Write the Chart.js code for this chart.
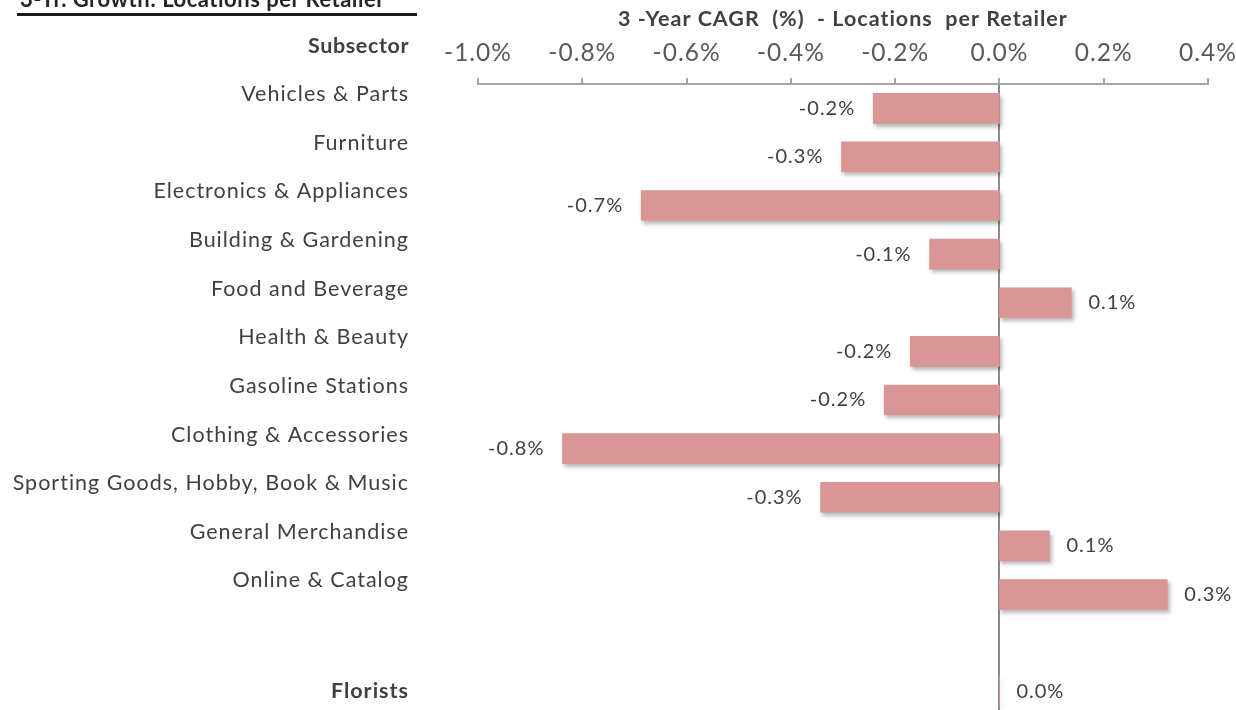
<!DOCTYPE html>
<html>
<head>
<meta charset="utf-8">
<script src="https://cdn.jsdelivr.net/npm/chart.js@4"></script>
<style>
  html, body { margin: 0; padding: 0; background: #fff; overflow: hidden; }
  body { width: 1236px; height: 710px; position: relative; font-family: Lato, sans-serif; }
  #chart { position: absolute; left: 0; top: 0; }
  #page-title { position: absolute; left: 20px; top: -15px; font: 700 22px Lato, sans-serif; color: #262626; white-space: nowrap; letter-spacing: 0.5px; }
  #rule { position: absolute; left: 17px; top: 13px; width: 400px; height: 3px; background: #1a1a1a; }
  #subsector { position: absolute; left: 0; top: 32px; width: 409px; text-align: right; font: 700 21.5px Lato, sans-serif; color: #404040; letter-spacing: 0.6px; }
</style>
</head>
<body>
<canvas id="chart" width="1236" height="720"></canvas>
<div id="page-title">3-Yr. Growth: Locations per Retailer</div>
<div id="rule"></div>
<div id="subsector">Subsector</div>
<script>
/* 3-year CAGR of locations per retailer, by subsector */
const subsectors = [
  "Vehicles & Parts", "Furniture", "Electronics & Appliances", "Building & Gardening",
  "Food and Beverage", "Health & Beauty", "Gasoline Stations", "Clothing & Accessories",
  "Sporting Goods, Hobby, Book & Music", "General Merchandise", "Online & Catalog",
  "", ["", "Florists"],
];
const cagr = [-0.242, -0.303, -0.687, -0.134, 0.138, -0.171, -0.221, -0.838, -0.343, 0.096, 0.322, null, 0.0];
const xTicks = { min: -1.0, max: 0.4, step: 0.2 };

const BAR = "#d99694", TEXT = "#404040", AXIS = "#a6a6a6";
const fmt = (v) => (Math.abs(v) < 1e-9 ? 0 : v).toFixed(1) + "%";

/* Excel-like looser text: set before layout so measured widths include it */
const spacing = {
  id: "spacing",
  beforeUpdate(chart) { chart.ctx.letterSpacing = "1px"; },
  beforeDraw(chart) { chart.ctx.letterSpacing = "1px"; },
};

/* drop shadow under bars + value labels beside them */
const barDecor = {
  id: "barDecor",
  beforeDatasetsDraw(chart) {
    const c = chart.ctx;
    c.save();
    c.shadowColor = "rgba(0,0,0,0.28)";
    c.shadowBlur = 4; c.shadowOffsetX = 2; c.shadowOffsetY = 3;
  },
  afterDatasetsDraw(chart) {
    const c = chart.ctx;
    c.restore();
    c.save();
    c.font = "20px Lato, sans-serif";
    c.fillStyle = TEXT; c.textBaseline = "middle";
    chart.getDatasetMeta(0).data.forEach((bar, i) => {
      const v = cagr[i];
      if (v == null) return;
      if (v < 0) { c.textAlign = "right"; c.fillText(fmt(v), bar.x - 18, bar.y); }
      else { c.textAlign = "left"; c.fillText(fmt(v), bar.x + 17, bar.y); }
    });
    c.restore();
  },
};

new Chart(document.getElementById("chart"), {
  type: "bar",
  data: {
    labels: subsectors,
    datasets: [{ data: cagr, backgroundColor: BAR, barThickness: 30, borderWidth: 0 }],
  },
  options: {
    indexAxis: "y",
    responsive: false, animation: false, devicePixelRatio: 1,
    layout: { padding: { left: 0, right: 28, top: 0, bottom: 4 } },
    plugins: { legend: { display: false }, tooltip: { enabled: false } },
    scales: {
      x: {
        position: "top",
        min: xTicks.min, max: xTicks.max,
        afterFit: (s) => { s.height = 84; s.paddingLeft = 0; s.paddingRight = 0; },
        ticks: {
          stepSize: xTicks.step, padding: 10, color: "#595959",
          font: { family: "Lato", size: 24.5 },
          callback: (v) => fmt(v),
        },
        grid: {
          drawOnChartArea: true, tickLength: 6, tickColor: AXIS, lineWidth: 2,
          color: (ctx) => (ctx.tick && Math.abs(ctx.tick.value) < 1e-9 ? "#8c8c8c" : "rgba(0,0,0,0)"),
        },
        border: { display: true, color: AXIS, width: 2 },
        title: {
          display: true, text: "3 -Year CAGR  (%)  - Locations  per Retailer",
          color: TEXT, font: { family: "Lato", size: 21.5, weight: "bold" },
          padding: { top: 6, bottom: 0 },
        },
      },
      y: {
        afterFit: (s) => { s.width = 478; s.paddingTop = 0; s.paddingBottom = 0; },
        grid: { display: false, drawTicks: false },
        border: { display: false },
        ticks: {
          autoSkip: false, padding: 69, labelOffset: -14, color: TEXT,
          font: (ctx) => ({ family: "Lato", size: 21.5, weight: ctx.index === 12 ? "bold" : "normal" }),
        },
      },
    },
  },
  plugins: [spacing, barDecor],
});
</script>
</body>
</html>
